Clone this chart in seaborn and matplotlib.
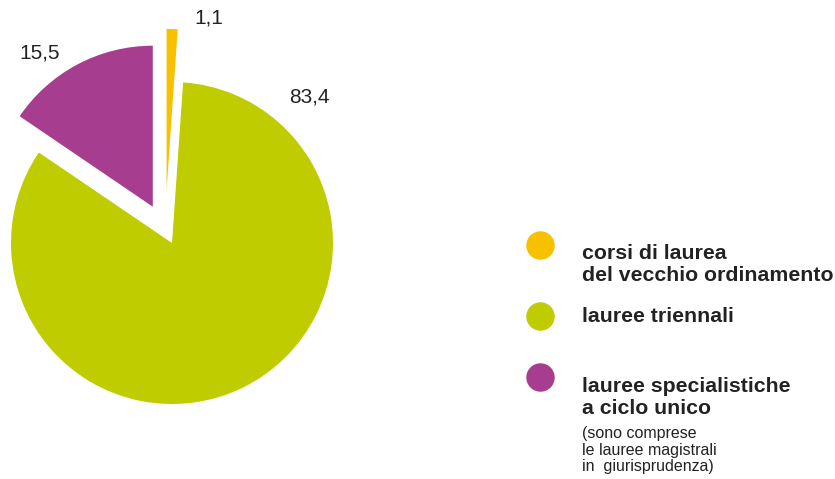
import matplotlib
matplotlib.use("Agg")
import matplotlib.pyplot as plt
import seaborn as sns

# data
categories = ["corsi di laurea\ndel vecchio ordinamento",
              "lauree triennali",
              "lauree specialistiche\na ciclo unico"]
values = [1.1, 83.4, 15.5]
value_labels = ["1,1", "83,4", "15,5"]
note = "(sono comprese\nle lauree magistrali\nin  giurisprudenza)"
colors = ["#F8C100", "#BECC00", "#A73D8F"]

sns.set_style("white")
plt.rcParams['font.family'] = ['Liberation Sans', 'DejaVu Sans']

fig = plt.figure(figsize=(8.35, 4.79), dpi=100)
R = 161.0  # pie radius in pixels

ax = fig.add_axes([0, 0, 344 / 835, 1])
wedges, _ = ax.pie(values, colors=colors, startangle=90, counterclock=False,
                   explode=[0.33, 0.0, 0.255], radius=1.0,
                   wedgeprops=dict(linewidth=0))
# the small slice sits a little left of its bisector in the original
cx, cy = wedges[0].center
wedges[0].set_center((cx - 0.045, cy))
ax.set_xlim(-172 / R, 172 / R)
ax.set_ylim(-236 / R, 243 / R)
ax.axis("off")

# value labels
label_pos = [(0.23, 1.40), (0.855, 0.905), (-0.82, 1.18)]
for (x, y), txt in zip(label_pos, value_labels):
    ax.text(x, y, txt, ha="center", va="center", fontsize=15, color="#222222")

# legend drawn in figure pixel space
lax = fig.add_axes([0, 0, 1, 1])
lax.set_xlim(0, 835)
lax.set_ylim(479, 0)
lax.axis("off")

marker_y = [245, 316, 377]
text_base = [259, 322, 392]
for c, lab, my, ty in zip(colors, categories, marker_y, text_base):
    lax.scatter([540], [my], s=420, color=c, linewidths=0)
    lines = lab.split("\n")
    for i, line in enumerate(lines):
        lax.text(582, ty + i * 22, line, ha="left", va="baseline",
                 fontsize=15.3, fontweight="bold", color="#222222")

for i, line in enumerate(note.split("\n")):
    lax.text(582, 438 + i * 16.5, line, ha="left", va="baseline",
             fontsize=11.5, color="#222222")

fig.savefig("out.png", dpi=100)
